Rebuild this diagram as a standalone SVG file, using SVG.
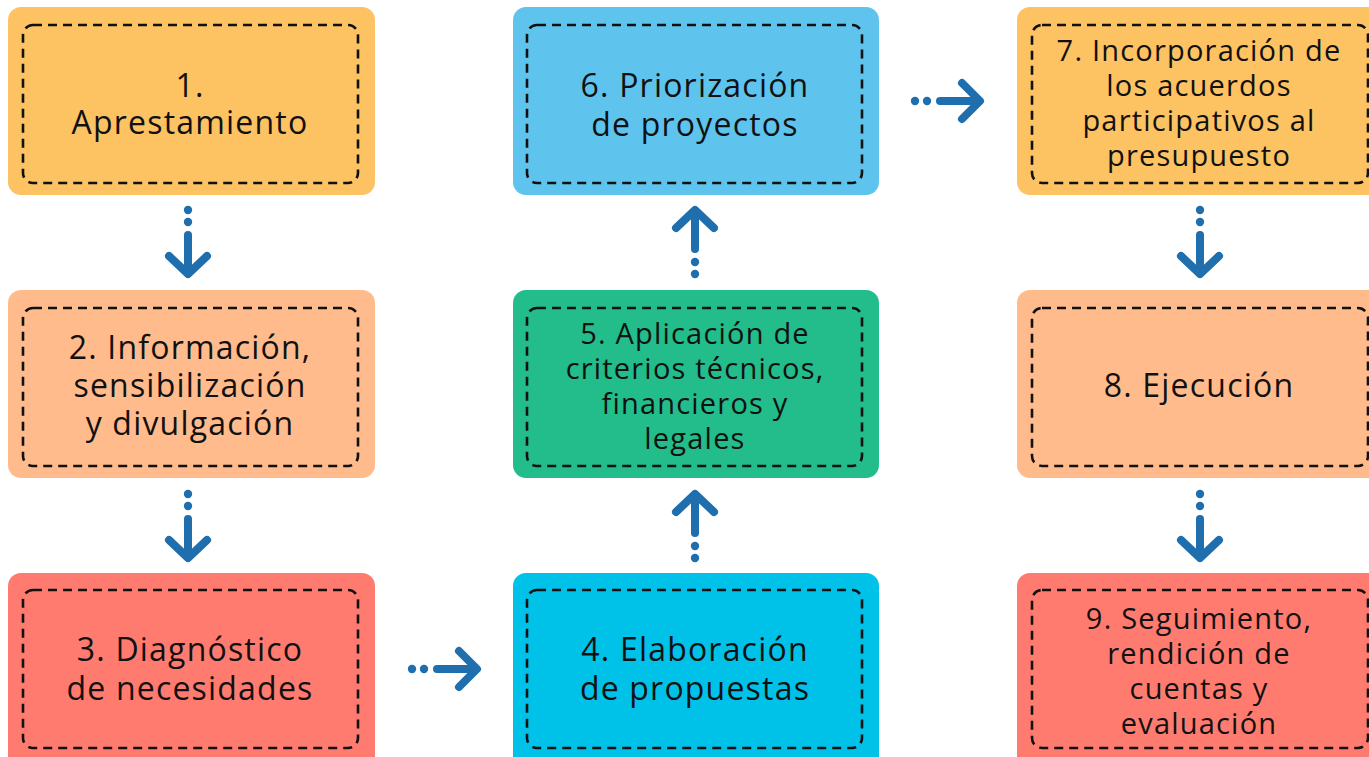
<svg xmlns="http://www.w3.org/2000/svg" width="1369" height="757" viewBox="0 0 1369 757">
<style>
.outer{stroke:none}
.inner{fill:none;stroke:#111;stroke-width:2.6;stroke-dasharray:9 6}
.t{font-family:"Open Sans","Noto Sans",sans-serif;font-size:32px;letter-spacing:1.2px;fill:#111;text-anchor:middle}
.s{font-size:29px;letter-spacing:1.2px}
.arr{fill:none;stroke:#1F6FAE;stroke-width:8;stroke-linecap:round;stroke-linejoin:round}
.dot{fill:#1F6FAE}
</style>
<rect width="1369" height="757" fill="#fff"/>
<g id="node1">
<rect class="outer" x="8" y="7" width="367" height="188" rx="13" fill="#FDC262"/>
<rect class="inner" x="23" y="25" width="335" height="158" rx="10"/>
<text class="t" x="190" y="97">1.</text>
<text class="t" x="190" y="134">Aprestamiento</text>
</g>
<g id="node2">
<rect class="outer" x="8" y="290" width="367" height="188" rx="13" fill="#FFBB8C"/>
<rect class="inner" x="23" y="308" width="335" height="158" rx="10"/>
<text class="t" x="190" y="359">2. Información,</text>
<text class="t" x="190" y="397">sensibilización</text>
<text class="t" x="190" y="435">y divulgación</text>
</g>
<g id="node3">
<rect class="outer" x="8" y="573" width="367" height="200" rx="13" fill="#FF7B6F"/>
<rect class="inner" x="23" y="590" width="335" height="158" rx="10"/>
<text class="t" x="190" y="661">3. Diagnóstico</text>
<text class="t" x="190" y="700">de necesidades</text>
</g>
<g id="node4">
<rect class="outer" x="513" y="573" width="366" height="200" rx="13" fill="#00C2E8"/>
<rect class="inner" x="527" y="590" width="335" height="158" rx="10"/>
<text class="t" x="695" y="661">4. Elaboración</text>
<text class="t" x="695" y="700">de propuestas</text>
</g>
<g id="node5">
<rect class="outer" x="513" y="290" width="366" height="188" rx="13" fill="#22BD8A"/>
<rect class="inner" x="527" y="308" width="335" height="158" rx="10"/>
<text class="t s" x="695" y="344">5. Aplicación de</text>
<text class="t s" x="695" y="379">criterios técnicos,</text>
<text class="t s" x="695" y="414">financieros y</text>
<text class="t s" x="695" y="449">legales</text>
</g>
<g id="node6">
<rect class="outer" x="513" y="7" width="366" height="188" rx="13" fill="#5EC4EE"/>
<rect class="inner" x="527" y="25" width="335" height="158" rx="10"/>
<text class="t" x="695" y="97">6. Priorización</text>
<text class="t" x="695" y="136">de proyectos</text>
</g>
<g id="node7">
<rect class="outer" x="1017" y="7" width="370" height="188" rx="13" fill="#FDC262"/>
<rect class="inner" x="1032" y="25" width="336" height="158" rx="10"/>
<text class="t s" x="1199" y="61">7. Incorporación de</text>
<text class="t s" x="1199" y="96">los acuerdos</text>
<text class="t s" x="1199" y="131">participativos al</text>
<text class="t s" x="1199" y="166">presupuesto</text>
</g>
<g id="node8">
<rect class="outer" x="1017" y="290" width="370" height="188" rx="13" fill="#FFBB8C"/>
<rect class="inner" x="1032" y="308" width="336" height="158" rx="10"/>
<text class="t" x="1199" y="397">8. Ejecución</text>
</g>
<g id="node9">
<rect class="outer" x="1017" y="573" width="370" height="200" rx="13" fill="#FF7B6F"/>
<rect class="inner" x="1032" y="590" width="336" height="158" rx="10"/>
<text class="t s" x="1199" y="629">9. Seguimiento,</text>
<text class="t s" x="1199" y="664">rendición de</text>
<text class="t s" x="1199" y="699">cuentas y</text>
<text class="t s" x="1199" y="734">evaluación</text>
</g>
<g id="connectors">
<g>
<circle class="dot" cx="188" cy="210" r="4.2"/><circle class="dot" cx="188" cy="222" r="4.2"/>
<path class="arr" d="M188 235 V273 M169 256 L188 274 L207 256"/>
</g>
<g>
<circle class="dot" cx="188" cy="494" r="4.2"/><circle class="dot" cx="188" cy="506" r="4.2"/>
<path class="arr" d="M188 519 V557 M169 540 L188 558 L207 540"/>
</g>
<g>
<circle class="dot" cx="412" cy="669" r="4.2"/><circle class="dot" cx="424" cy="669" r="4.2"/>
<path class="arr" d="M437 669 H476 M459 651 L477 669 L459 687"/>
</g>
<g>
<circle class="dot" cx="695" cy="558" r="4.2"/><circle class="dot" cx="695" cy="546" r="4.2"/>
<path class="arr" d="M695 533 V495 M676 512 L695 494 L714 512"/>
</g>
<g>
<circle class="dot" cx="695" cy="274" r="4.2"/><circle class="dot" cx="695" cy="262" r="4.2"/>
<path class="arr" d="M695 249 V211 M676 228 L695 210 L714 228"/>
</g>
<g>
<circle class="dot" cx="915" cy="101" r="4.2"/><circle class="dot" cx="927" cy="101" r="4.2"/>
<path class="arr" d="M940 101 H979 M962 83 L980 101 L962 119"/>
</g>
<g>
<circle class="dot" cx="1200" cy="210" r="4.2"/><circle class="dot" cx="1200" cy="222" r="4.2"/>
<path class="arr" d="M1200 235 V273 M1181 256 L1200 274 L1219 256"/>
</g>
<g>
<circle class="dot" cx="1200" cy="494" r="4.2"/><circle class="dot" cx="1200" cy="506" r="4.2"/>
<path class="arr" d="M1200 519 V557 M1181 540 L1200 558 L1219 540"/>
</g>
</g>
</svg>
